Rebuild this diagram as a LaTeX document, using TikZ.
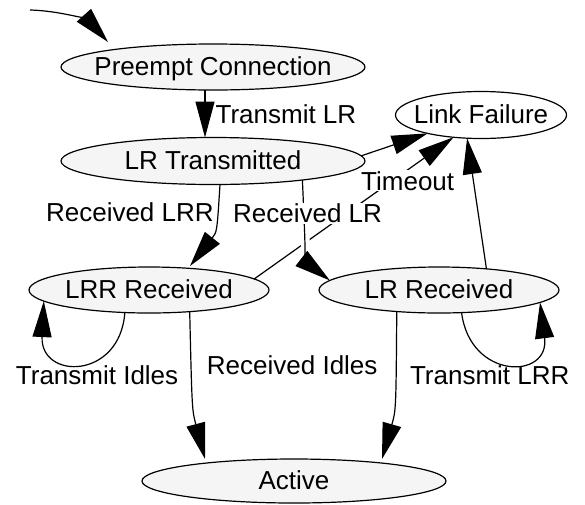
\documentclass[tikz,border=0pt]{standalone}
\usepackage{fontspec}
\setmainfont{Liberation Sans}
\usetikzlibrary{shapes.geometric,arrows.meta,positioning}
\definecolor{statefill}{gray}{0.96}
\tikzset{
  state/.style={
    ellipse, draw, line width=1.2pt, fill=statefill,
    inner sep=0pt, outer sep=0pt,
    minimum height=46pt,
    text height=20pt, text depth=3pt,
    execute at begin node={\hbox to 0pt\bgroup\hss},
    execute at end node={\hss\egroup}
  },
  trans/.style={line width=1.2pt, -{Triangle[length=36pt,width=19pt]}},
  lbl/.style={inner sep=1pt},
  lblfill/.style={lbl, fill=white},
}

\begin{document}
\begin{tikzpicture}[x=1pt, y=-1pt, font=\fontsize{26}{30}\selectfont]
  \useasboundingbox (0,0) rectangle (585,504);

  \node[state, minimum width=304pt]             (pc)  at (213,67)  {Preempt Connection};
  \node[state, minimum width=304pt, minimum height=47pt] (lrt) at (213,161) {LR Transmitted};
  \node[state, minimum width=171pt, minimum height=47pt, fill=white] (lf) at (481,115) {Link Failure};
  \node[state, minimum width=240pt]             (lrr) at (149,290) {LRR Received};
  \node[state, minimum width=240pt]             (lr)  at (439,290) {LR Received};
  \node[state, minimum width=304pt, minimum height=44pt] (act) at (294,481) {Active};

  \coordinate (init) at (30,10);
  \draw[trans] (init) .. controls (65,11) and (90,22) .. ([xshift=-105pt,yshift=2pt]pc.north);

  \draw[trans] ([xshift=-8pt]pc.south) -- ([xshift=-8pt]lrt.north)
    node[lbl, midway, right=9pt] {Transmit LR};
  \draw[trans] (lrt.2) -- (lf.199);

  % timeout first, the other lines cut through it
  \draw[trans] (lrr.6) -- (lf.219)
    node[lblfill, pos=0.77, yshift=-11pt] {Timeout};
  \draw[white, line width=9pt, shorten <=40pt, shorten >=30pt]
    (lrt.-12) .. controls (306,262) .. (lr.175);
  \draw[trans] (lrt.-12) .. controls (306,262) .. (lr.175)
    node[lblfill, pos=0.22, xshift=3pt, yshift=10pt] {Received LR};
  \draw[trans] ([xshift=7pt]lrt.south) .. controls (217,232) .. ([xshift=41pt,yshift=1pt]lrr.north)
    node[lbl, pos=0.3, left=2pt, yshift=4pt] {Received LRR};

  \draw[trans] (lr.24) -- (lf.239);

  \draw[trans] (lrr.223) .. controls (120,380) and (40,380) .. (lrr.186)
    node[lbl, pos=0.5, below=2pt, xshift=16pt] {Transmit Idles};
  \draw[trans] (lr.-45) .. controls (470,380) and (550,380) .. (lr.-7)
    node[lbl, pos=0.5, below=2pt, xshift=-18pt] {Transmit LRR};

  \draw[trans] (lrr.-28) .. controls (192,410) .. ([xshift=-89pt]act.north)
    node[lbl, pos=0.27, right=14pt, yshift=8pt] {Received Idles};
  \draw[trans] (lr.207) .. controls (396,410) .. ([xshift=88pt]act.north);
\end{tikzpicture}
\end{document}
